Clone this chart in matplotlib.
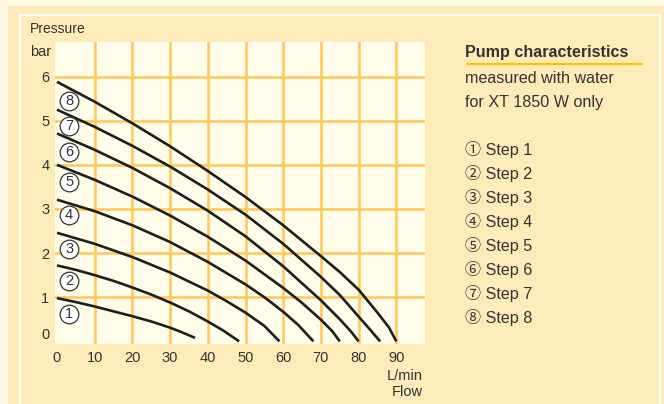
import matplotlib.pyplot as plt
from matplotlib.patches import Rectangle
from matplotlib.lines import Line2D
import matplotlib.transforms as mtransforms

# Flow (L/min) and pressure (bar), one pair of lists per step
flow_1 = [0, 5, 10, 15, 20, 25, 30, 33, 36.6]
pres_1 = [0.98, 0.89, 0.79, 0.68, 0.57, 0.45, 0.31, 0.21, 0.08]
flow_2 = [0, 5, 10, 15, 20, 25, 30, 35, 40, 44, 48.3]
pres_2 = [1.72, 1.62, 1.50, 1.37, 1.22, 1.06, 0.88, 0.68, 0.45, 0.25, 0.0]
flow_3 = [0, 10, 20, 30, 40, 45, 50, 55, 59]
pres_3 = [2.46, 2.21, 1.91, 1.56, 1.15, 0.91, 0.65, 0.35, 0.0]
flow_4 = [0, 10, 20, 30, 40, 50, 55, 60, 64, 68]
pres_4 = [3.21, 2.95, 2.63, 2.25, 1.80, 1.29, 1.00, 0.67, 0.37, 0.0]
flow_5 = [0, 10, 20, 30, 40, 50, 60, 65, 70, 73, 75]
pres_5 = [4.00, 3.66, 3.28, 2.85, 2.37, 1.83, 1.21, 0.87, 0.49, 0.23, 0.0]
flow_6 = [0, 10, 20, 30, 40, 50, 60, 70, 75, 78, 80]
pres_6 = [4.71, 4.34, 3.93, 3.47, 2.96, 2.38, 1.70, 0.93, 0.50, 0.22, 0.0]
flow_7 = [0, 10, 20, 30, 40, 50, 60, 70, 75, 80, 83, 85.7]
pres_7 = [5.25, 4.86, 4.43, 3.96, 3.44, 2.87, 2.21, 1.46, 1.05, 0.56, 0.27, 0.0]
flow_8 = [0, 10, 20, 30, 40, 50, 60, 70, 75, 80, 85, 88, 90]
pres_8 = [5.88, 5.43, 4.94, 4.42, 3.86, 3.27, 2.63, 1.93, 1.57, 1.17, 0.65, 0.32, 0.0]

curves = [(flow_1, pres_1), (flow_2, pres_2), (flow_3, pres_3), (flow_4, pres_4),
          (flow_5, pres_5), (flow_6, pres_6), (flow_7, pres_7), (flow_8, pres_8)]

# where the circled step numbers sit on the chart
badge_flow = 3.2
badge_pres = [0.63, 1.37, 2.09, 2.86, 3.60, 4.30, 4.89, 5.45]
badge_text = ['1', '2', '3', '4', '5', '6', '7', '8']

x_ticks = [0, 10, 20, 30, 40, 50, 60, 70, 80, 90]
y_ticks = [0, 1, 2, 3, 4, 5, 6]
x_grid = [10, 20, 30, 40, 50, 60, 70, 80, 90]
y_grid = [1, 2, 3, 4, 5, 6]

legend_lines = ['\u2460 Step 1', '\u2461 Step 2', '\u2462 Step 3', '\u2463 Step 4',
                '\u2464 Step 5', '\u2465 Step 6', '\u2466 Step 7', '\u2467 Step 8']

OUTER = '#FEF9E2'
PANEL = '#FDEBBA'
PLOT_BG = '#FFFDE9'
GRID = '#FFC95E'
INK = '#1e1e1e'
TXT = '#333333'

plt.rcParams['font.family'] = ['Liberation Sans', 'Noto Sans CJK JP', 'DejaVu Sans']

W, H = 664, 404
fig = plt.figure(figsize=(W / 100, H / 100), dpi=100, facecolor=OUTER)


def fx(px):
    return px / W


def fy(py):
    return 1 - py / H


# frame: tan band, thin white line, tan panel (kept below the axes)
fig.patches.append(Rectangle((fx(8), 0), 1, fy(6), transform=fig.transFigure,
                             facecolor=PANEL, edgecolor='none', zorder=-3))
fig.patches.append(Rectangle((fx(19), 0), fx(661 - 19), fy(13.5), transform=fig.transFigure,
                             facecolor='white', edgecolor='none', zorder=-2))
fig.patches.append(Rectangle((fx(21), 0), fx(659 - 21), fy(15.5), transform=fig.transFigure,
                             facecolor=PANEL, edgecolor='none', zorder=-1))

ax = fig.add_axes([fx(55), fy(344), fx(425 - 55), fy(41.7) - fy(344)])
ax.set_facecolor(PLOT_BG)
ax.set_xlim(-0.53, 97.6)
ax.set_ylim(-0.06, 6.79)
for s in ax.spines.values():
    s.set_visible(False)

for gx in x_grid:
    ax.axvline(gx, color=GRID, lw=1.9, zorder=1)
for gy in y_grid:
    ax.axhline(gy, color=GRID, lw=1.9, zorder=1)

for q, p in curves:
    ax.plot(q, p, color=INK, lw=1.9, solid_joinstyle='round', solid_capstyle='butt', zorder=3)

ax.scatter([badge_flow] * len(badge_pres), badge_pres, s=180, facecolor='white',
           edgecolor=TXT, linewidths=0.9, zorder=4)
for p, t in zip(badge_pres, badge_text):
    ax.text(badge_flow, p, t, ha='center', va='center', fontsize=10.5, color=TXT, zorder=5)

ax.set_xticks(x_ticks)
ax.set_yticks(y_ticks)
ax.tick_params(length=0, labelsize=10.5, labelcolor=TXT)
ax.tick_params(axis='x', pad=5)
ax.tick_params(axis='y', pad=4)
# the 0 on the pressure axis sits a little above the axis bottom
lab0 = ax.get_yticklabels()[0]
lab0.set_transform(lab0.get_transform() + mtransforms.ScaledTranslation(0, 8 / 100, fig.dpi_scale_trans))

fig.text(fx(30), fy(29), 'Pressure', fontsize=10, color=TXT, ha='left', va='center')
fig.text(fx(30), fy(52), 'bar', fontsize=10.5, color=TXT, ha='left', va='center')
fig.text(fx(423), fy(376), 'L/min', fontsize=10.5, color=TXT, ha='right', va='center')
fig.text(fx(423), fy(392.5), 'Flow', fontsize=10.5, color=TXT, ha='right', va='center')

fig.text(fx(465), fy(53), 'Pump characteristics', fontsize=11.6, fontweight='bold',
         color=TXT, ha='left', va='center')
fig.lines.append(Line2D([fx(467.5), fx(641.5)], [fy(63.5), fy(63.5)], transform=fig.transFigure,
                        color='#FFC000', lw=1.6))
fig.text(fx(465), fy(78.5), 'measured with water', fontsize=11.6, color=TXT, ha='left', va='center')
fig.text(fx(465), fy(102), 'for XT 1850 W only', fontsize=11.6, color=TXT, ha='left', va='center')

for i, line in enumerate(legend_lines):
    fig.text(fx(465), fy(150 + i * 23.9), line, fontsize=11.6, color=TXT, ha='left', va='center')

fig.savefig('out.png', dpi=100, facecolor=OUTER)
